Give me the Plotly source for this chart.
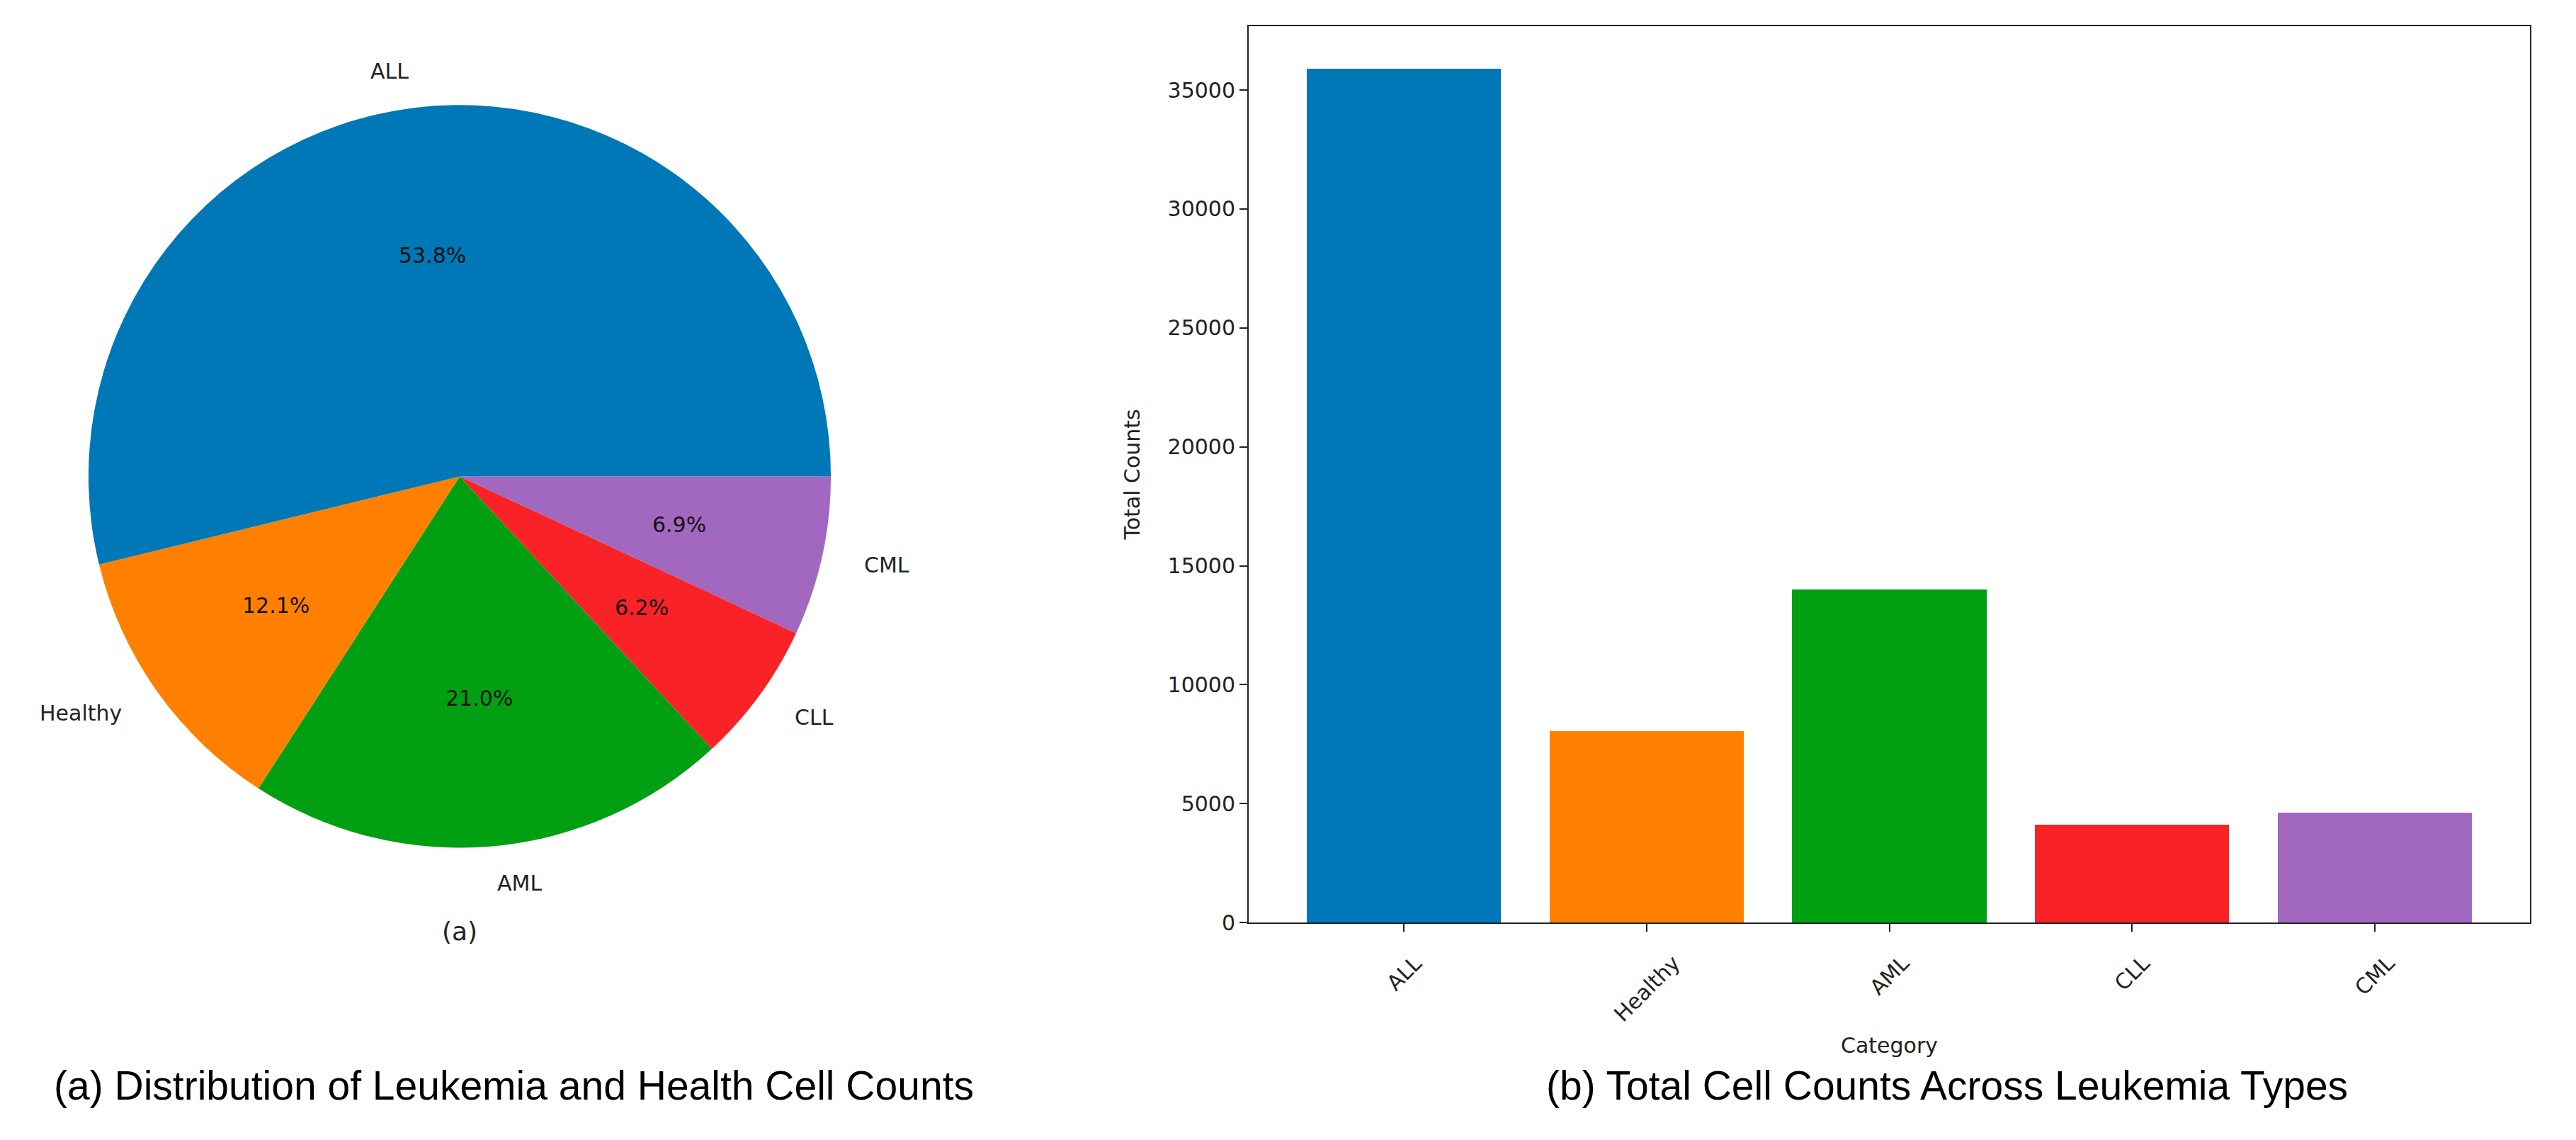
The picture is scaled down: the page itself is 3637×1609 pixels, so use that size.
import math
import plotly.graph_objects as go

categories = ["ALL", "Healthy", "AML", "CLL", "CML"]
counts = [35900, 8050, 14010, 4120, 4630]
colors = ["#0077B6", "#FF8000", "#00A012", "#F92226", "#A268C0"]
ytick_vals = [0, 5000, 10000, 15000, 20000, 25000, 30000, 35000]

W, H = 3637, 1609
FONT = "DejaVu Sans"
FS = 30

# pie geometry (pixels)
cx, cy, r = 649, 680, 530

fig = go.Figure()

# matplotlib draws counterclockwise from 3 o'clock; plotly equivalent:
# reversed order drawn clockwise from 3 o'clock
fig.add_trace(go.Pie(
    values=counts[::-1], labels=categories[::-1], sort=False,
    direction="clockwise", rotation=90,
    marker=dict(colors=colors[::-1], line=dict(width=0)),
    textinfo="none", showlegend=False,
    domain=dict(x=[(cx - r) / W, (cx + r) / W], y=[1 - (cy + r) / H, 1 - (cy - r) / H]),
))

fig.add_trace(go.Bar(
    x=categories, y=counts, marker=dict(color=colors, line=dict(width=0)),
    width=0.8, showlegend=False, xaxis="x", yaxis="y",
))

annotations = []
total = sum(counts)
cum = 0
for cat, v in zip(categories, counts):
    mid = math.radians((cum + v / 2) / total * 360)
    cum += v
    lx = cx + 1.1 * r * math.cos(mid)
    ly = cy - 1.1 * r * math.sin(mid)
    annotations.append(dict(
        x=lx / W, y=1 - ly / H, xref="paper", yref="paper",
        text=cat, showarrow=False, font=dict(family=FONT, size=FS, color="#222"),
        xanchor="left" if math.cos(mid) > 0 else "right", yanchor="middle",
    ))
    px_ = cx + 0.6 * r * math.cos(mid)
    py_ = cy - 0.6 * r * math.sin(mid)
    annotations.append(dict(
        x=px_ / W, y=1 - py_ / H, xref="paper", yref="paper",
        text=f"{v / total * 100:.1f}%", showarrow=False,
        font=dict(family=FONT, size=FS, color="#111"),
        xanchor="center", yanchor="middle",
    ))

# rotated category tick labels, centred under each tick (matplotlib style)
for cat in categories:
    annotations.append(dict(
        x=cat, y=1 - 1354 / H, xref="x", yref="paper",
        text=cat, showarrow=False, textangle=-45,
        font=dict(family=FONT, size=FS, color="#222"),
        xanchor="center", yanchor="top",
    ))

annotations.append(dict(x=cx / W, y=1 - 1329 / H, xref="paper", yref="paper",
                        text="(a)", showarrow=False,
                        font=dict(family=FONT, size=36, color="#222"),
                        xanchor="center", yanchor="middle"))
annotations.append(dict(x=725 / W, y=1 - 1549 / H, xref="paper", yref="paper",
                        text="(a) Distribution of Leukemia and Health Cell Counts",
                        showarrow=False,
                        font=dict(family="Liberation Sans", size=57, color="#000"),
                        xanchor="center", yanchor="middle"))
annotations.append(dict(x=2749 / W, y=1 - 1549 / H, xref="paper", yref="paper",
                        text="(b) Total Cell Counts Across Leukemia Types",
                        showarrow=False,
                        font=dict(family="Liberation Sans", size=57, color="#000"),
                        xanchor="center", yanchor="middle"))

axis_common = dict(showgrid=False, zeroline=False, showline=True, linecolor="#222",
                   linewidth=2, mirror=True, ticks="outside", ticklen=11,
                   tickwidth=2, tickcolor="#222",
                   tickfont=dict(family=FONT, size=FS, color="#222"))

fig.update_layout(
    width=W, height=H, margin=dict(l=0, r=0, t=0, b=0),
    paper_bgcolor="white", plot_bgcolor="white",
    xaxis=dict(domain=[1763 / W, 3572 / W], range=[-0.64, 4.64],
               showticklabels=False,
               title=dict(text="Category", font=dict(family=FONT, size=FS, color="#222"),
                          standoff=151),
               **axis_common),
    yaxis=dict(domain=[1 - 1317 / H, 1 - 37 / H], range=[0, max(counts) * 1.05],
               tickvals=ytick_vals, ticktext=[str(t) for t in ytick_vals],
               title=dict(text="Total Counts", font=dict(family=FONT, size=FS, color="#222"),
                          standoff=30),
               **axis_common),
    annotations=annotations,
    bargap=0,
)

fig.write_html("out.html")
